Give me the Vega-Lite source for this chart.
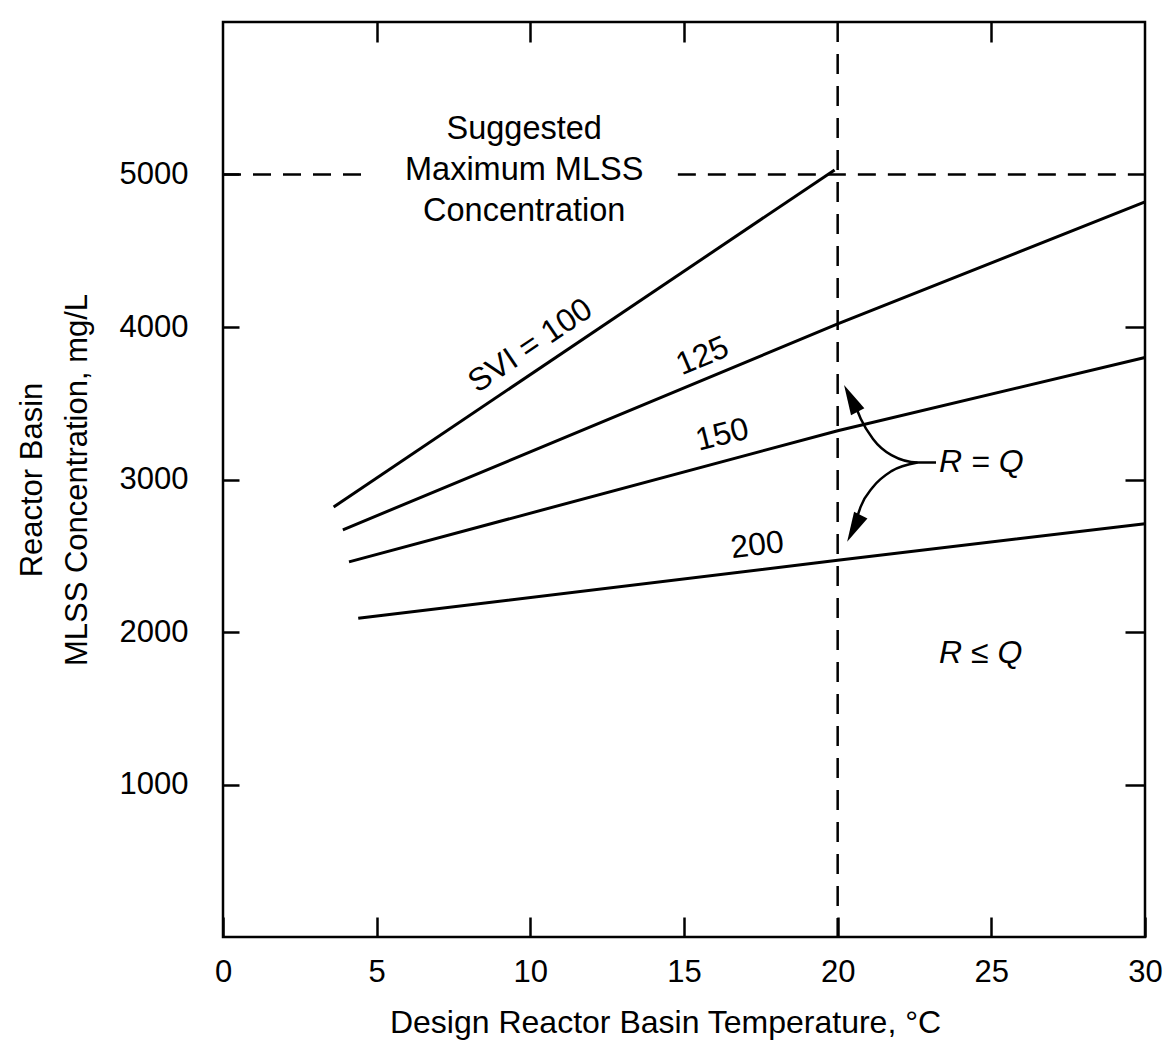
{
  "$schema": "https://vega.github.io/schema/vega-lite/v6.json",
  "width": 922,
  "height": 915,
  "autosize": {"type": "none"},
  "padding": {"left": 223, "top": 22, "right": 25, "bottom": 112},
  "background": "white",
  "config": {
    "view": {"stroke": "black", "strokeWidth": 2.5},
    "axis": {"grid": false, "domain": false, "tickColor": "black", "tickWidth": 2.5, "labelColor": "black", "labelFont": "Liberation Sans", "titleFont": "Liberation Sans", "titleColor": "black", "titleFontWeight": "normal", "labelFontSize": 31, "titleFontSize": 31},
    "text": {"font": "Liberation Sans", "color": "black"}
  },
  "resolve": {"axis": {"x": "independent", "y": "independent"}},
  "layer": [
    {
      "data": {"values": [
        {"svi": "100", "t": 3.6, "mlss": 2820}, {"svi": "100", "t": 19.9, "mlss": 5030},
        {"svi": "125", "t": 3.9, "mlss": 2670}, {"svi": "125", "t": 20, "mlss": 4020}, {"svi": "125", "t": 30, "mlss": 4820},
        {"svi": "150", "t": 4.1, "mlss": 2460}, {"svi": "150", "t": 20, "mlss": 3320}, {"svi": "150", "t": 30, "mlss": 3800},
        {"svi": "200", "t": 4.4, "mlss": 2090}, {"svi": "200", "t": 20, "mlss": 2470}, {"svi": "200", "t": 30, "mlss": 2710}
      ]},
      "mark": {"type": "line", "color": "black", "strokeWidth": 3},
      "encoding": {
        "x": {"field": "t", "type": "quantitative", "scale": {"domain": [0, 30], "nice": false},
          "axis": {"orient": "bottom", "values": [0, 5, 10, 15, 20, 25, 30], "format": "d", "tickSize": -20, "labelPadding": 40, "labelFlush": false, "labelBaseline": "top",
            "title": "Design Reactor Basin Temperature, °C", "titleFontSize": 32, "titleX": 442, "titleY": 95, "titleBaseline": "alphabetic"}},
        "y": {"field": "mlss", "type": "quantitative", "scale": {"domain": [0, 6000], "nice": false},
          "axis": {"orient": "left", "values": [1000, 2000, 3000, 4000, 5000], "format": "d", "tickSize": -16, "labelPadding": 51, "labelBaseline": "middle",
            "title": ["Reactor Basin", "MLSS Concentration, mg/L"], "titleLineHeight": 45, "titlePadding": 26}},
        "detail": {"field": "svi"}
      }
    },
    {
      "data": {"values": [
        {"t": 0, "t2": 4.8, "mlss": 5000},
        {"t": 14.8, "t2": 30, "mlss": 5000}
      ]},
      "mark": {"type": "rule", "color": "black", "strokeWidth": 2.5, "strokeDash": [18, 12]},
      "encoding": {
        "x": {"field": "t", "type": "quantitative", "scale": {"domain": [0, 30], "nice": false},
          "axis": {"orient": "top", "values": [5, 10, 15, 25], "labels": false, "tickSize": -20, "title": null}},
        "x2": {"field": "t2"},
        "y": {"field": "mlss", "type": "quantitative", "scale": {"domain": [0, 6000], "nice": false},
          "axis": {"orient": "right", "values": [1000, 2000, 3000, 4000], "labels": false, "tickSize": -20, "title": null}}
      }
    },
    {
      "data": {"values": [{"t": 20}]},
      "mark": {"type": "rule", "color": "black", "strokeWidth": 2.5, "strokeDash": [20, 12]},
      "encoding": {
        "x": {"field": "t", "type": "quantitative", "scale": {"domain": [0, 30], "nice": false}, "axis": null}
      }
    },
    {
      "data": {"values": [{"label": "SVI = 100", "t": 10.0, "mlss": 3878}]},
      "mark": {"type": "text", "fontSize": 32, "angle": -34, "align": "center", "baseline": "middle"},
      "encoding": {
        "x": {"field": "t", "type": "quantitative", "scale": {"domain": [0, 30], "nice": false}, "axis": null},
        "y": {"field": "mlss", "type": "quantitative", "scale": {"domain": [0, 6000], "nice": false}, "axis": null},
        "text": {"field": "label"}
      }
    },
    {
      "data": {"values": [{"label": "125", "t": 15.6, "mlss": 3810}]},
      "mark": {"type": "text", "fontSize": 32, "angle": -23, "align": "center", "baseline": "middle"},
      "encoding": {
        "x": {"field": "t", "type": "quantitative", "scale": {"domain": [0, 30], "nice": false}, "axis": null},
        "y": {"field": "mlss", "type": "quantitative", "scale": {"domain": [0, 6000], "nice": false}, "axis": null},
        "text": {"field": "label"}
      }
    },
    {
      "data": {"values": [{"label": "150", "t": 16.24, "mlss": 3294}]},
      "mark": {"type": "text", "fontSize": 32, "angle": -14, "align": "center", "baseline": "middle"},
      "encoding": {
        "x": {"field": "t", "type": "quantitative", "scale": {"domain": [0, 30], "nice": false}, "axis": null},
        "y": {"field": "mlss", "type": "quantitative", "scale": {"domain": [0, 6000], "nice": false}, "axis": null},
        "text": {"field": "label"}
      }
    },
    {
      "data": {"values": [{"label": "200", "t": 17.38, "mlss": 2570}]},
      "mark": {"type": "text", "fontSize": 32, "angle": -7, "align": "center", "baseline": "middle"},
      "encoding": {
        "x": {"field": "t", "type": "quantitative", "scale": {"domain": [0, 30], "nice": false}, "axis": null},
        "y": {"field": "mlss", "type": "quantitative", "scale": {"domain": [0, 6000], "nice": false}, "axis": null},
        "text": {"field": "label"}
      }
    },
    {
      "data": {"values": [{"label": "Suggested|Maximum MLSS|Concentration", "t": 9.8, "mlss": 5300}]},
      "mark": {"type": "text", "fontSize": 32.5, "align": "center", "baseline": "middle", "lineBreak": "|", "lineHeight": 41},
      "encoding": {
        "x": {"field": "t", "type": "quantitative", "scale": {"domain": [0, 30], "nice": false}, "axis": null},
        "y": {"field": "mlss", "type": "quantitative", "scale": {"domain": [0, 6000], "nice": false}, "axis": null},
        "text": {"field": "label"}
      }
    },
    {
      "data": {"values": [
        {"label": "R = Q", "t": 23.3, "mlss": 3117},
        {"label": "R ≤ Q", "t": 23.3, "mlss": 1865}
      ]},
      "mark": {"type": "text", "fontSize": 32, "fontStyle": "italic", "align": "left", "baseline": "middle"},
      "encoding": {
        "x": {"field": "t", "type": "quantitative", "scale": {"domain": [0, 30], "nice": false}, "axis": null},
        "y": {"field": "mlss", "type": "quantitative", "scale": {"domain": [0, 6000], "nice": false}, "axis": null},
        "text": {"field": "label"}
      }
    },
    {
      "data": {"values": [
        {"arrow": "up", "t": 23.2, "mlss": 3112},
        {"arrow": "up", "t": 22.6, "mlss": 3112},
        {"arrow": "up", "t": 21.75, "mlss": 3160},
        {"arrow": "up", "t": 21.15, "mlss": 3266},
        {"arrow": "up", "t": 20.75, "mlss": 3399},
        {"arrow": "up", "t": 20.55, "mlss": 3498},
        {"arrow": "down", "t": 22.6, "mlss": 3112},
        {"arrow": "down", "t": 21.75, "mlss": 3055},
        {"arrow": "down", "t": 21.15, "mlss": 2951},
        {"arrow": "down", "t": 20.75, "mlss": 2822},
        {"arrow": "down", "t": 20.62, "mlss": 2744}
      ]},
      "mark": {"type": "line", "color": "black", "strokeWidth": 2.5, "interpolate": "monotone"},
      "encoding": {
        "x": {"field": "t", "type": "quantitative", "scale": {"domain": [0, 30], "nice": false}, "axis": null},
        "y": {"field": "mlss", "type": "quantitative", "scale": {"domain": [0, 6000], "nice": false}, "axis": null},
        "detail": {"field": "arrow"}
      }
    },
    {
      "data": {"values": [{"t": 20.43, "mlss": 3532}]},
      "mark": {"type": "point", "shape": "M0,-1L0.5,1L-0.5,1Z", "filled": true, "color": "black", "opacity": 1, "size": 900, "angle": -27},
      "encoding": {
        "x": {"field": "t", "type": "quantitative", "scale": {"domain": [0, 30], "nice": false}, "axis": null},
        "y": {"field": "mlss", "type": "quantitative", "scale": {"domain": [0, 6000], "nice": false}, "axis": null}
      }
    },
    {
      "data": {"values": [{"t": 20.53, "mlss": 2679}]},
      "mark": {"type": "point", "shape": "M0,-1L0.5,1L-0.5,1Z", "filled": true, "color": "black", "opacity": 1, "size": 900, "angle": 207},
      "encoding": {
        "x": {"field": "t", "type": "quantitative", "scale": {"domain": [0, 30], "nice": false}, "axis": null},
        "y": {"field": "mlss", "type": "quantitative", "scale": {"domain": [0, 6000], "nice": false}, "axis": null}
      }
    }
  ]
}
